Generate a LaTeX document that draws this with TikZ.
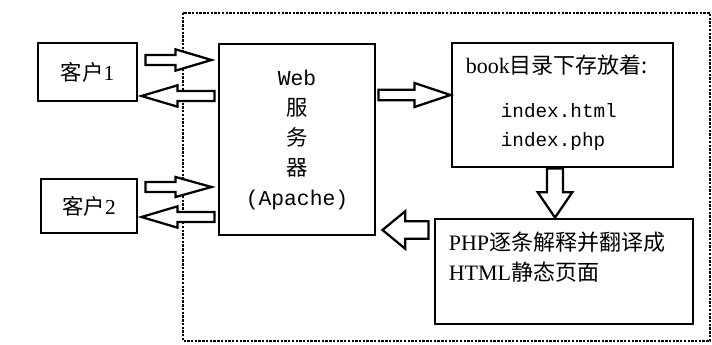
\documentclass[tikz,border=0pt]{standalone}
\usepackage{fontspec}
\setmainfont{Liberation Serif}
\setmonofont{Liberation Mono}
\newfontfamily\cjk{Noto Sans CJK SC}
\usetikzlibrary{calc}

\tikzset{
  box/.style={draw, line width=2.2pt, inner sep=0pt, font=\fontsize{16}{22.5}\selectfont},
  txt/.style={inner sep=0pt, font=\fontsize{16.5}{22.5}\selectfont},
  fatarr/.style={draw, line width=1.7pt, fill=white, line join=miter},
}
% hollow block arrow: start, end, shaft half width, head half width, head length
\newcommand{\fatarrow}[5]{%
  \coordinate (hb) at ($(#2)!#5!(#1)$);
  \draw[fatarr] ($(#1)!#3!90:(#2)$) -- ($(hb)!#3!90:(#2)$) -- ($(hb)!#4!90:(#2)$) -- (#2)
    -- ($(hb)!#4!-90:(#2)$) -- ($(hb)!#3!-90:(#2)$) -- ($(#1)!#3!-90:(#2)$) -- cycle;
}

\begin{document}
\begin{tikzpicture}[x=0.75pt, y=-0.75pt]
    \useasboundingbox (0,0) rectangle (712,345);
    \draw[densely dotted, line width=1.8pt] (183,13) rectangle (710,341); % server side

    % boxes
    \node[box, minimum width=74.25pt, minimum height=43.5pt] (c1) at (87.5,72) {{\cjk 客户}1};
    \node[box, minimum width=72pt, minimum height=40.5pt] (c2) at (89,206) {{\cjk 客户}2};
    \node[box, minimum width=117pt, minimum height=143.25pt, align=center] (srv) at (297,139.5)
      {\ttfamily Web\\{\cjk 服}\\{\cjk 务}\\{\cjk 器}\\\ttfamily (Apache)};
    \node[box, minimum width=165.75pt, minimum height=93pt] (book) at (562.5,105) {};
    \node[box, minimum width=193.5pt, minimum height=78.75pt] (php) at (564,271.5) {};

    % texts in the right boxes
    \node[txt, anchor=base west] (bk1) at ($(book.north west)+(15,32)$) {book{\cjk 目录下存放着:}};
    \node[txt, anchor=base west, font=\fontsize{14.5}{20}\ttfamily] (bk2) at ($(book.north west)+(50,76)$) {index.html};
    \node[txt, anchor=base west, font=\fontsize{14.5}{20}\ttfamily] (bk3) at ($(book.north west)+(50,105)$) {index.php};
    \node[txt, anchor=base west] (ph1) at ($(php.north west)+(15,33)$) {PHP{\cjk 逐条解释并翻译成}};
    \node[txt, anchor=base west] (ph2) at ($(php.north west)+(15,63)$) {HTML{\cjk 静态页面}};

    % arrow ends
    \coordinate (a1s) at ($(c1.east)+(7,-12)$);
    \coordinate (a1e) at ($(srv.west |- a1s)+(-6,0)$);
    \coordinate (a2s) at ($(srv.west)+(-3,-43.5)$);
    \coordinate (a2e) at ($(c1.east |- a2s)+(3,0)$);
    \coordinate (a3s) at ($(c2.east)+(7,-19)$);
    \coordinate (a3e) at ($(srv.west |- a3s)+(-6,0)$);
    \coordinate (a4s) at ($(srv.west)+(-3,77.5)$);
    \coordinate (a4e) at ($(c2.east |- a4s)+(3,0)$);
    \coordinate (a5s) at ($(srv.east)+(2,-44.5)$);
    \coordinate (a5e) at (book.west |- a5s);
    \coordinate (a6s) at ($(book.south)+(-7.5,0)$);
    \coordinate (a6e) at (a6s |- php.north);
    \coordinate (a7s) at ($(php.west)+(-5,-41.5)$);
    \coordinate (a7e) at ($(srv.east |- a7s)+(6,0)$);

    \fatarrow{a1s}{a1e}{3.75pt}{8pt}{27pt}
    \fatarrow{a2s}{a2e}{3.75pt}{8pt}{27pt}
    \fatarrow{a3s}{a3e}{3.75pt}{7.5pt}{27pt}
    \fatarrow{a4s}{a4e}{3.75pt}{8pt}{27pt}
    \fatarrow{a5s}{a5e}{4pt}{9pt}{27pt}
    \fatarrow{a6s}{a6e}{6pt}{13pt}{19pt}
    \fatarrow{a7s}{a7e}{6.5pt}{14pt}{17pt}
\end{tikzpicture}
\end{document}
